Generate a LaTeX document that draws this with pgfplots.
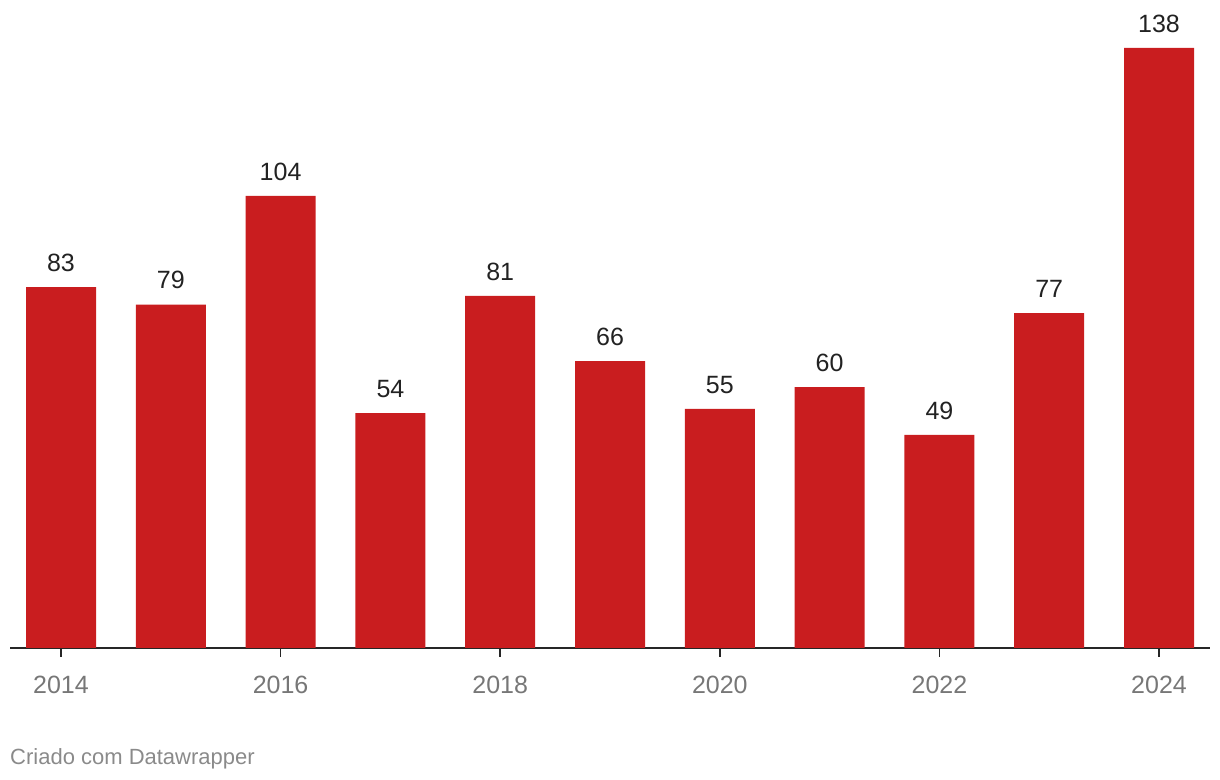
\documentclass[border=0pt]{standalone}
\usepackage{fontspec}
\setmainfont{Liberation Sans}
\usepackage{pgfplots}
\pgfplotsset{compat=1.18}
\definecolor{barred}{HTML}{C91D1F}
\definecolor{lblgray}{HTML}{777777}
\definecolor{footgray}{HTML}{8A8A8A}
\definecolor{valtext}{HTML}{222222}
\begin{document}
\begin{tikzpicture}[x=1bp,y=1bp]
\path[use as bounding box] (0,0) rectangle (1220,780);
\begin{axis}[
  at={(10bp,132bp)}, anchor=south west,
  scale only axis, width=1200bp, height=600bp,
  xmin=2013.5355, xmax=2024.4645,
  ymin=0, ymax=138,
  axis x line*=bottom, axis y line=none,
  x axis line style={draw=black!85, line width=1.6bp, -},
  xtick={2014,2016,2018,2020,2022,2024},
  xticklabels={2014,2016,2018,2020,2022,2024},
  major tick length=9bp,
  tick align=outside,
  x tick style={draw=black!85, line width=1.6bp},
  xticklabel style={font=\fontsize{25bp}{28bp}\selectfont, text=lblgray, yshift=-16bp},
  /pgf/number format/assume math mode=true,
  ybar, bar width=70bp,
  nodes near coords,
  every node near coord/.append style={font=\fontsize{25bp}{28bp}\selectfont, text=valtext, yshift=12bp},
  clip=false,
]
\addplot[fill=barred, draw=none] coordinates {
(2014,83) (2015,79) (2016,104) (2017,54) (2018,81) (2019,66)
(2020,55) (2021,60) (2022,49) (2023,77) (2024,138)};
\end{axis}
\node[anchor=base west, inner sep=0pt, text=footgray, font=\fontsize{22bp}{25bp}\selectfont] at (10,15) {Criado com Datawrapper};
\end{tikzpicture}
\end{document}
